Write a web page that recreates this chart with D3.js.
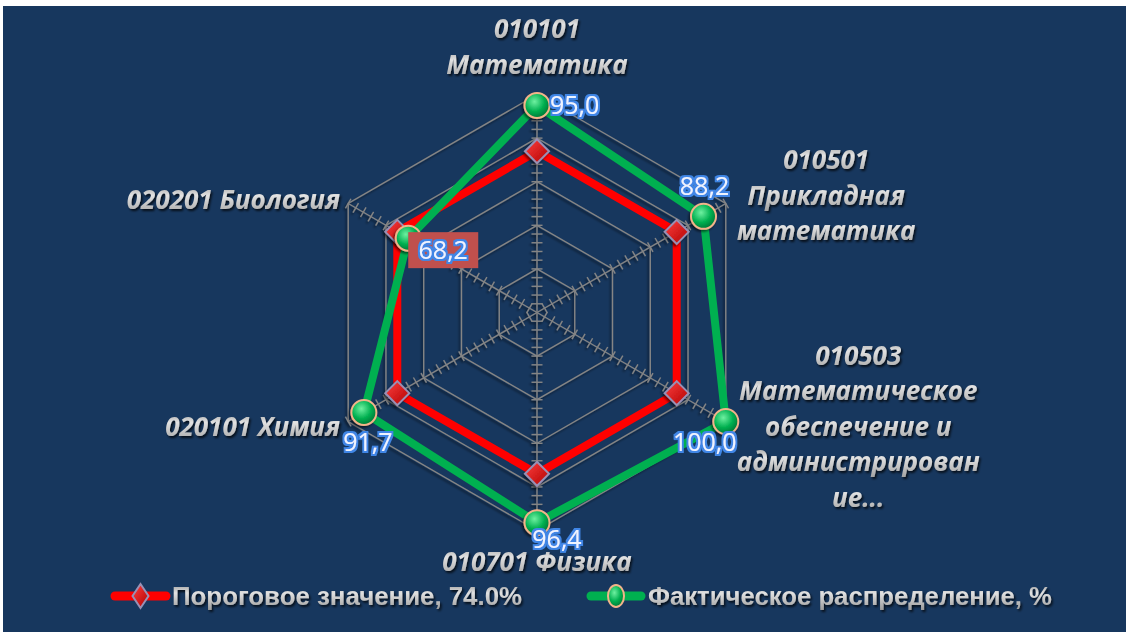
<!DOCTYPE html>
<html>
<head>
<meta charset="utf-8">
<script src="https://cdn.jsdelivr.net/npm/d3@7"></script>
<style>
  body { margin: 0; background: #ffffff; }
</style>
</head>
<body>
<div id="chart"></div>
<script>
// chart data
var categories = ["010101 Математика", "010501 Прикладная математика",
  "010503 Математическое обеспечение и администрирование", "010701 Физика",
  "020101 Химия", "020201 Биология"];
// wrapped category labels as they appear on the chart
var categoryLines = [
  ["010101", "Математика"],
  ["010501", "Прикладная", "математика"],
  ["010503", "Математическое", "обеспечение и", "администрирован", "ие..."],
  ["010701 Физика"],
  ["020101 Химия"],
  ["020201 Биология"]
];
var thresholdValues = [74, 74, 74, 74, 74, 74];
var actualValues = [95.0, 88.2, 100.0, 96.4, 91.7, 68.2];
var seriesNames = ["Пороговое значение, 74.0%", "Фактическое распределение, %"];
var gridTicks = [20, 40, 60, 80, 100];
var minorStep = 4;

var W = 1132, H = 638;
var cx = 537, cy = 312.5, R = 218;

var svg = d3.select("#chart")
  .append("svg")
  .attr("width", W)
  .attr("height", H);

var defs = svg.append("defs");

// shadow used by grid and markers
var sh = defs.append("filter").attr("id", "shadow")
  .attr("x", "-20%").attr("y", "-20%").attr("width", "140%").attr("height", "140%");
sh.append("feDropShadow").attr("dx", -1.5).attr("dy", 2).attr("stdDeviation", 1)
  .attr("flood-color", "#000").attr("flood-opacity", 0.55);

var tsh = defs.append("filter").attr("id", "tshadow")
  .attr("x", "-10%").attr("y", "-30%").attr("width", "120%").attr("height", "160%");
tsh.append("feDropShadow").attr("dx", 1.5).attr("dy", 2).attr("stdDeviation", 1.2)
  .attr("flood-color", "#000").attr("flood-opacity", 0.75);

var glow = defs.append("filter").attr("id", "glow")
  .attr("x", "-20%").attr("y", "-30%").attr("width", "140%").attr("height", "160%");
glow.append("feMorphology").attr("in", "SourceAlpha").attr("operator", "dilate").attr("radius", 1.6).attr("result", "d");
glow.append("feGaussianBlur").attr("in", "d").attr("stdDeviation", 0.6).attr("result", "db");
glow.append("feFlood").attr("flood-color", "#3f86e6");
glow.append("feComposite").attr("in2", "db").attr("operator", "in").attr("result", "o");
var gm = glow.append("feMerge");
gm.append("feMergeNode").attr("in", "o");
gm.append("feMergeNode").attr("in", "SourceGraphic");

// metallic grey for label text
var lg = defs.append("linearGradient").attr("id", "metal")
  .attr("x1", 0).attr("y1", 0).attr("x2", 0).attr("y2", 1);
lg.append("stop").attr("offset", "0%").attr("stop-color", "#8e8e8e");
lg.append("stop").attr("offset", "40%").attr("stop-color", "#e2e2e2");
lg.append("stop").attr("offset", "100%").attr("stop-color", "#9c9c9c");

var rg = defs.append("radialGradient").attr("id", "greenBall")
  .attr("cx", "40%").attr("cy", "35%").attr("r", "65%");
rg.append("stop").attr("offset", "0%").attr("stop-color", "#6ef0a0");
rg.append("stop").attr("offset", "60%").attr("stop-color", "#00b050");
rg.append("stop").attr("offset", "100%").attr("stop-color", "#007a38");

var rd = defs.append("linearGradient").attr("id", "redGem")
  .attr("x1", 0).attr("y1", 0).attr("x2", 1).attr("y2", 1);
rd.append("stop").attr("offset", "0%").attr("stop-color", "#ff4040");
rd.append("stop").attr("offset", "100%").attr("stop-color", "#b00000");

// background
svg.append("rect")
  .attr("x", 3).attr("y", 6)
  .attr("width", 1123).attr("height", 626)
  .attr("fill", "#17375e");

var r = d3.scaleLinear().domain([0, 100]).range([0, R]);
var angle = d3.scaleLinear().domain([0, categories.length]).range([0, 2 * Math.PI]);

function px(i, v) { return cx + r(v) * Math.sin(angle(i)); }
function py(i, v) { return cy - r(v) * Math.cos(angle(i)); }

var idx = d3.range(categories.length);

// grid rings
var grid = svg.append("g").attr("filter", "url(#shadow)");
grid.selectAll("path.ring")
  .data(gridTicks)
  .enter()
  .append("path")
  .attr("class", "ring")
  .attr("d", function (t) {
    return d3.line().curve(d3.curveLinearClosed)(idx.map(function (i) { return [px(i, t), py(i, t)]; }));
  })
  .attr("fill", "none")
  .attr("stroke", "#858585")
  .attr("stroke-width", 1.4);

// spokes with crossing ticks
var minorTicks = d3.range(minorStep, 100 + 0.01, minorStep);
idx.forEach(function (i) {
  var a = angle(i);
  grid.append("line")
    .attr("x1", cx).attr("y1", cy)
    .attr("x2", px(i, 100)).attr("y2", py(i, 100))
    .attr("stroke", "#858585")
    .attr("stroke-width", 1.4);
  var nx = Math.cos(a), ny = Math.sin(a);
  grid.selectAll("line.tk" + i)
    .data(minorTicks)
    .enter()
    .append("line")
    .attr("class", "tk" + i)
    .attr("x1", function (t) { return px(i, t) - nx * 5.5; })
    .attr("y1", function (t) { return py(i, t) - ny * 5.5; })
    .attr("x2", function (t) { return px(i, t) + nx * 5.5; })
    .attr("y2", function (t) { return py(i, t) + ny * 5.5; })
    .attr("stroke", "#858585")
    .attr("stroke-width", 1.4);
});

var radial = d3.lineRadial()
  .angle(function (d, i) { return angle(i); })
  .radius(function (d) { return r(d); })
  .curve(d3.curveLinearClosed);

function diamond(g, s) {
  return g.append("path")
    .attr("d", "M0," + (-s) + "L" + s + ",0L0," + s + "L" + (-s) + ",0Z")
    .attr("fill", "url(#redGem)")
    .attr("stroke", "#9a90b4")
    .attr("stroke-width", 2);
}
function ball(g, rx, ry) {
  return g.append("ellipse")
    .attr("rx", rx).attr("ry", ry)
    .attr("fill", "url(#greenBall)")
    .attr("stroke", "#f2b48a")
    .attr("stroke-width", 2);
}

// threshold series
svg.append("path")
  .datum(thresholdValues)
  .attr("transform", "translate(" + cx + "," + cy + ")")
  .attr("d", radial)
  .attr("fill", "none")
  .attr("stroke", "#ff0000")
  .attr("stroke-width", 8);

thresholdValues.forEach(function (v, i) {
  var g = svg.append("g")
    .attr("transform", "translate(" + px(i, v) + "," + py(i, v) + ")")
    .attr("filter", "url(#shadow)");
  diamond(g, 12);
});

// actual series
svg.append("path")
  .datum(actualValues)
  .attr("transform", "translate(" + cx + "," + cy + ")")
  .attr("d", radial)
  .attr("fill", "none")
  .attr("stroke", "#00b050")
  .attr("stroke-width", 8);

actualValues.forEach(function (v, i) {
  var g = svg.append("g")
    .attr("transform", "translate(" + px(i, v) + "," + py(i, v) + ")")
    .attr("filter", "url(#shadow)");
  ball(g, 12.5, 12.5);
});

// value labels, offsets relative to each point
var labelOffsets = [
  { dx: 13, dy: 0, anchor: "start" },
  { dx: 1, dy: -30, anchor: "middle" },
  { dx: -21, dy: 21, anchor: "middle" },
  { dx: 20, dy: 17, anchor: "middle" },
  { dx: 4, dy: 30, anchor: "middle" },
  { dx: 35, dy: 12, anchor: "middle" }
];
var fmt = function (v) { return d3.format(".1f")(v).replace(".", ","); };

actualValues.forEach(function (v, i) {
  var o = labelOffsets[i];
  var x = px(i, v) + o.dx, y = py(i, v) + o.dy;
  if (v === d3.min(actualValues)) {
    svg.append("rect")
      .attr("x", x - 35).attr("y", y - 18)
      .attr("width", 70).attr("height", 36)
      .attr("fill", "#c0504d");
  }
  svg.append("text")
    .attr("x", x).attr("y", y)
    .attr("dy", "0.35em")
    .attr("text-anchor", o.anchor)
    .attr("font-family", "'Open Sans', sans-serif")
    .attr("font-size", 25)
    .attr("fill", "#eef4ff")
    .attr("filter", "url(#glow)")
    .text(fmt(v));
});

// category labels
var lineH = 35.5;
var labelShift = [0, -8, 5, 2, 5.5, -3.5];
var catText = svg.append("g")
  .attr("font-family", "'Open Sans', sans-serif")
  .attr("font-weight", "bold")
  .attr("font-style", "italic")
  .attr("font-size", 26)
  .attr("fill", "url(#metal)")
  .attr("filter", "url(#tshadow)");

categoryLines.forEach(function (lines, i) {
  var vx = px(i, 100), vy = py(i, 100);
  var n = lines.length;
  var g = catText.append("g");
  var texts = g.selectAll("text")
    .data(lines)
    .enter()
    .append("text")
    .attr("dy", "0.35em")
    .text(function (d) { return d; });
  var x, y0, anchor;
  if (i === 0) {
    anchor = "middle"; x = vx; y0 = vy - 30 - (n - 1) * lineH;
  } else if (i === 3) {
    anchor = "middle"; x = vx; y0 = vy + 29;
  } else if (i < 3) {
    var w = d3.max(texts.nodes(), function (t) { return t.getComputedTextLength(); });
    anchor = "middle"; x = vx + 11 + w / 2; y0 = vy - (n - 1) * lineH / 2;
  } else {
    anchor = "end"; x = vx - 8; y0 = vy - (n - 1) * lineH / 2;
  }
  texts.attr("text-anchor", anchor)
    .attr("x", x)
    .attr("y", function (d, k) { return y0 + labelShift[i] + k * lineH; });
});

// legend
var legend = svg.append("g");
var legendItems = [
  { name: seriesNames[0], x0: 111, x1: 170, tx: 172, len: 350, color: "#ff0000" },
  { name: seriesNames[1], x0: 587, x1: 645, tx: 648, len: 404, color: "#00b050" }
];
var ly = 596;
legendItems.forEach(function (d, k) {
  legend.append("line")
    .attr("x1", d.x0 + 4).attr("x2", d.x1 - 4)
    .attr("y1", ly).attr("y2", ly)
    .attr("stroke", d.color)
    .attr("stroke-width", 9)
    .attr("stroke-linecap", "round");
  var g = legend.append("g").attr("transform", "translate(" + ((d.x0 + d.x1) / 2) + "," + ly + ")");
  if (k === 0) {
    g.append("path")
      .attr("d", "M0,-12L8,0L0,12L-8,0Z")
      .attr("fill", "url(#redGem)")
      .attr("stroke", "#9a90b4")
      .attr("stroke-width", 2);
  } else {
    ball(g, 8, 11);
  }
  legend.append("text")
    .attr("x", d.tx).attr("y", ly)
    .attr("dy", "0.35em")
    .attr("font-family", "'Liberation Sans', Arial, sans-serif")
    .attr("font-size", 25)
    .attr("font-weight", 600)
    .attr("fill", "url(#metal)")
    .attr("filter", "url(#tshadow)")
    .attr("textLength", d.len)
    .attr("lengthAdjust", "spacingAndGlyphs")
    .text(d.name);
});
</script>
</body>
</html>
